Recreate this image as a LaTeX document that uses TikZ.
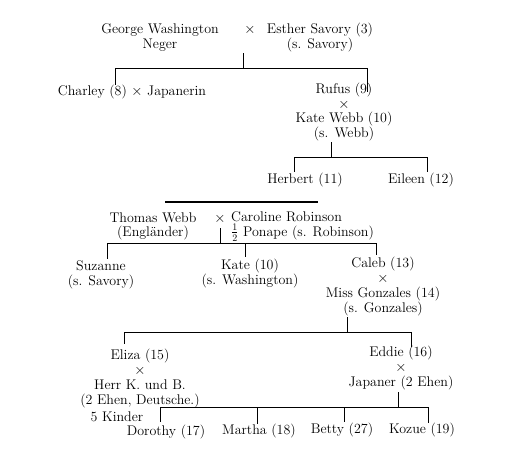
\documentclass[tikz,border=0pt]{standalone}
\usetikzlibrary{positioning}
\tikzset{>=latex}
\begin{document}
\begin{tikzpicture}[x=1pt, y=-1pt,
    every node/.style={inner sep=0pt, font=\fontsize{14}{14.7}\selectfont},
    person/.style={align=center},
    line/.style={line width=0.7pt}]
    \useasboundingbox (0,0) rectangle (523,458);

    % Washington x Savory
    \node[person] (george) at (160,37.5) {George Washington\\Neger};
    \node (x1) at (250,30) {$\times$};
    \node[person] (esther) at (320,37.5) {Esther Savory (3)\\(s. Savory)};
    \node (charley) at (132,92) {Charley (8) $\times$ Japanerin};
    \node[person] (rufus) at (344,112) {Rufus (9)\\$\times$\\Kate Webb (10)\\(s. Webb)};
    \node (herbert) at (305,180) {Herbert (11)};
    \node (eileen) at (421,180) {Eileen (12)};

    \coordinate (f1) at (243,68);
    \coordinate (f1l) at (115,68);
    \coordinate (f1r) at (367,68);
    \draw[line] (f1) -- ++(0,-15);
    \draw[line] (f1l) -- ++(0,17) (f1l) -- (f1r) -- ++(0,24);

    \coordinate (f2) at (331,157);
    \coordinate (f2l) at (294,157);
    \coordinate (f2r) at (427,157);
    \draw[line] (f2) -- ++(0,-15);
    \draw[line] (f2l) -- ++(0,15) (f2l) -- (f2r) -- ++(0,15);

    \draw[line width=2pt] (165,202) -- (318,202);

    % Webb x Robinson
    \node[person] (thomas) at (153,226.5) {Thomas Webb\\(Engl\"ander)};
    \node (x3) at (220,219) {$\times$};
    \node[align=left, anchor=west] (caroline) at (231,226.5) {Caroline Robinson\\$\frac{1}{2}$ Ponape (s. Robinson)};
    \node[person] (suzanne) at (101,274.5) {Suzanne\\(s. Savory)};
    \node[person] (kate) at (250,273.5) {Kate (10)\\(s. Washington)};
    \node[person] (caleb) at (383,286.5) {Caleb (13)\\$\times$\\Miss Gonzales (14)\\(s. Gonzales)};

    \coordinate (f3) at (220,243);
    \coordinate (f3l) at (107,243);
    \coordinate (f3m) at (245,243);
    \coordinate (f3r) at (376,243);
    \draw[line] (f3) -- ++(0,-15);
    \draw[line] (f3l) -- ++(0,16) (f3l) -- (f3r) -- ++(0,12);
    \draw[line] (f3m) -- ++(0,14);

    % Caleb x Gonzales
    \node[person] (eliza) at (140,378.5) {Eliza (15)\\$\times$\\Herr K. und B.\\(2 Ehen, Deutsche.)};
    \node (kinder) at (117,417) {5 Kinder};
    \node[person] (eddie) at (401,368) {Eddie (16)\\$\times$\\Japaner (2 Ehen)};

    \coordinate (f4) at (347,332);
    \coordinate (f4l) at (124,332);
    \coordinate (f4r) at (411,332);
    \draw[line] (f4) -- ++(0,-15);
    \draw[line] (f4l) -- ++(0,12) (f4l) -- (f4r) -- ++(0,15);

    % Eddie x Japaner
    \node (dorothy) at (166,432) {Dorothy (17)};
    \node (martha) at (259,431) {Martha (18)};
    \node (betty) at (342,430) {Betty (27)};
    \node (kozue) at (422,430) {Kozue (19)};

    \coordinate (f5) at (398,407);
    \coordinate (f5l) at (160,407);
    \coordinate (f5r) at (428,407);
    \draw[line] (f5) -- ++(0,-15);
    \draw[line] (f5l) -- ++(0,15) (f5l) -- (f5r) -- ++(0,16);
    \draw[line] (257,407) -- (martha.north -| 257,0);
    \draw[line] (344,407) -- ++(0,15);
\end{tikzpicture}
\end{document}
